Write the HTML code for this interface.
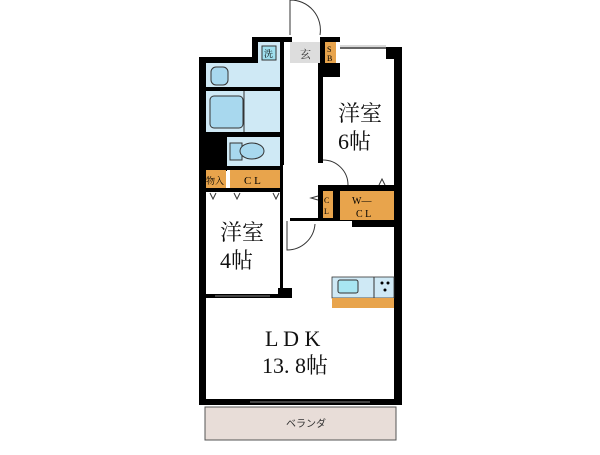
<!DOCTYPE html>
<html><head><meta charset="utf-8"><style>
body{margin:0;background:#fff;width:600px;height:450px;overflow:hidden;font-family:"Liberation Serif","Noto Serif CJK SC",serif}
</style></head><body>
<svg width="600" height="450" viewBox="0 0 600 450" xmlns="http://www.w3.org/2000/svg">
<g fill="#000">
<rect x="199" y="57" width="7" height="348"/>
<rect x="199" y="57" width="56" height="6"/>
<rect x="252" y="37" width="6" height="26"/>
<rect x="252" y="37" width="40" height="5"/>
<rect x="394" y="57" width="8" height="348"/>
<rect x="386" y="47" width="16" height="12"/>
<rect x="199" y="399" width="203" height="6"/>
<rect x="320" y="37" width="20" height="5"/>
<rect x="320" y="37" width="5" height="40"/>
<rect x="320" y="63" width="20" height="14"/>
<rect x="280" y="37" width="4" height="128"/>
<rect x="280" y="165" width="3" height="130"/>
<rect x="278" y="288" width="14" height="10"/>
<rect x="205" y="87" width="78" height="4"/>
<rect x="205" y="132" width="78" height="5"/>
<rect x="205" y="135" width="22" height="36"/>
<rect x="205" y="166" width="78" height="4"/>
<rect x="205" y="188" width="78" height="4"/>
<rect x="205" y="294" width="78" height="4"/>
<rect x="318" y="63" width="5" height="100"/>
<rect x="318" y="185" width="80" height="6"/>
<rect x="318" y="185" width="5" height="35"/>
<rect x="333" y="188" width="7" height="30"/>
<rect x="352" y="220" width="45" height="7"/>
<rect x="290" y="218" width="62" height="3"/>
</g>
<!-- window on 6 room top -->
<line x1="340" y1="48" x2="386" y2="48" stroke="#333" stroke-width="1.5"/>
<line x1="340" y1="46" x2="386" y2="46" stroke="#999" stroke-width="0.8"/>
<!-- fills -->
<rect x="290" y="42" width="30" height="21" fill="#ddd"/>
<text x="300" y="58" font-size="11" fill="#333">玄</text>
<rect x="325" y="42" width="11" height="21" fill="#e8a44c"/>
<text x="327" y="52" font-size="8">S</text><text x="327" y="61" font-size="8">B</text>
<rect x="258" y="42" width="22" height="21" fill="#cfe9f5"/>
<rect x="262" y="46" width="14" height="14" fill="#9fe0ef" stroke="#333"/>
<text x="264" y="57" font-size="9">洗</text>
<rect x="206" y="63" width="74" height="24" fill="#cfe9f5"/>
<rect x="211" y="67" width="17" height="18" rx="5" fill="#a8d8ee" stroke="#333"/>
<rect x="206" y="91" width="74" height="41" fill="#cfe9f5"/>
<rect x="210" y="96" width="33" height="32" rx="4" fill="#a8d8ee" stroke="#333"/>
<line x1="244" y1="91" x2="244" y2="132" stroke="#333"/>
<rect x="227" y="137" width="53" height="29" fill="#cfe9f5"/>
<rect x="230" y="143" width="12" height="17" fill="#a8d8ee" stroke="#333"/>
<ellipse cx="252" cy="151" rx="12" ry="8" fill="#a8d8ee" stroke="#333"/>
<rect x="206" y="170" width="20" height="18" fill="#e8a44c"/>
<text x="206" y="184" font-size="9">物入</text>
<rect x="230" y="170" width="50" height="18" fill="#e8a44c"/>
<text x="244" y="184" font-size="11">C L</text>
<rect x="323" y="191" width="10" height="27" fill="#e8a44c"/>
<text x="324" y="203" font-size="8">C</text><text x="324" y="214" font-size="8">L</text>
<rect x="340" y="191" width="54" height="29" fill="#e8a44c"/>
<text x="352" y="204" font-size="10">W—</text><text x="356" y="217" font-size="10">C L</text>
<!-- triangles -->
<path d="M210 193 L213 199 L216 193 M234 193 L237 199 L240 193 M273 193 L276 199 L279 193" fill="none" stroke="#333"/>
<path d="M379 185 L382 179 L385 185" fill="none" stroke="#333"/>
<path d="M318 196 L311 198 L318 200" fill="none" stroke="#333"/>
<!-- kitchen -->
<rect x="332" y="277" width="62" height="21" fill="#cfe9f5" stroke="#333" stroke-width="0.8"/>
<rect x="338" y="280" width="20" height="13" rx="2" fill="#a8e6f2" stroke="#333"/>
<line x1="374" y1="277" x2="374" y2="298" stroke="#333"/>
<circle cx="382" cy="283" r="1.5"/><circle cx="388" cy="283" r="1.5"/><circle cx="385" cy="290" r="1.5"/>
<rect x="332" y="298" width="62" height="10" fill="#e8a44c"/>
<!-- doors -->
<path d="M290 35 L290 0 A30 30 0 0 1 320 35" fill="none" stroke="#333"/>
<path d="M323 160 A25 25 0 0 1 348 185" fill="none" stroke="#333"/>
<path d="M287 221 L287 250 A28 28 0 0 0 315 224" fill="none" stroke="#333"/>
<!-- window lines -->
<line x1="215" y1="296" x2="270" y2="296" stroke="#888" stroke-width="1"/>
<line x1="250" y1="402" x2="370" y2="402" stroke="#888" stroke-width="1"/>
<!-- balcony -->
<rect x="205" y="407" width="191" height="33" fill="#e8ddd8" stroke="#555"/>
<text x="286" y="427" font-size="10" fill="#333" font-family="Liberation Sans,Noto Sans CJK JP,sans-serif">ベランダ</text>
<g font-size="22" fill="#111">
<text x="338" y="121">洋室</text><text x="338" y="149">6帖</text>
<text x="220" y="240">洋室</text><text x="220" y="268">4帖</text>
<text x="265" y="346">L D K</text><text x="262" y="373">13. 8帖</text>
</g>
</svg>
</body></html>
